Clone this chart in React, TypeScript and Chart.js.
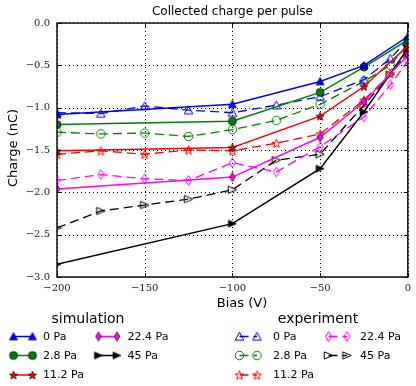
import { useEffect, useRef } from 'react';
import { Chart, registerables } from 'chart.js';
Chart.register(...registerables);

// ---------- data ----------
const simBias = [-200, -100, -50, -25, 0];
const expBias = [-200, -175, -150, -125, -100, -75, -50, -25, -10, 0];
const pressures = ['0 Pa', '2.8 Pa', '11.2 Pa', '22.4 Pa', '45 Pa'];

const sim0 = [-1.08, -0.96, -0.69, -0.5, -0.16];
const sim28 = [-1.2, -1.16, -0.82, -0.52, -0.2];
const sim112 = [-1.51, -1.47, -1.1, -0.75, -0.27];
const sim224 = [-1.96, -1.82, -1.35, -0.93, -0.38];
const sim45 = [-2.85, -2.37, -1.72, -1.05, -0.3];

const exp0 = [-1.06, -1.07, -0.98, -1.03, -1.06, -0.97, -0.87, -0.67, -0.42, -0.2];
const exp28 = [-1.29, -1.31, -1.3, -1.34, -1.26, -1.15, -0.96, -0.69, -0.5, -0.25];
const exp112 = [-1.55, -1.51, -1.55, -1.5, -1.51, -1.42, -1.31, -0.91, -0.6, -0.35];
const exp224 = [-1.86, -1.79, -1.84, -1.86, -1.65, -1.76, -1.46, -1.11, -0.73, -0.45];
const exp45 = [-2.42, -2.22, -2.15, -2.08, -1.97, -1.62, -1.55, -0.97, -0.61, -0.35];

const xTicks = [-200, -150, -100, -50, 0];
const yTicks = [-3, -2.5, -2, -1.5, -1, -0.5, 0];

const simSeries = [sim0, sim28, sim112, sim224, sim45];
const expSeries = [exp0, exp28, exp112, exp224, exp45];
const colors = ['#0000ff', '#007f00', '#ff0000', '#ff00ff', '#000000'];
const shapes = ['tri', 'circle', 'star', 'diamond', 'right'];

// ---------- markers ----------
function makeMarker(shape: string, size: number, fill: string | null, stroke: string, lw: number) {
  const w = Math.ceil(size + 6);
  const c = document.createElement('canvas');
  c.width = w;
  c.height = w;
  const ctx = c.getContext('2d')!;
  ctx.translate(w / 2, w / 2);
  const r = size / 2;
  ctx.beginPath();
  if (shape === 'tri') {
    ctx.moveTo(0, -r); ctx.lineTo(r, r * 0.85); ctx.lineTo(-r, r * 0.85); ctx.closePath();
  } else if (shape === 'circle') {
    ctx.arc(0, 0, r, 0, Math.PI * 2);
  } else if (shape === 'star') {
    const ri = r * 0.42;
    for (let k = 0; k < 10; k++) {
      const rr = k % 2 === 0 ? r * 1.1 : ri * 1.1;
      const a = -Math.PI / 2 + (k * Math.PI) / 5;
      const px = rr * Math.cos(a), py = rr * Math.sin(a) + 0.5;
      if (k === 0) ctx.moveTo(px, py); else ctx.lineTo(px, py);
    }
    ctx.closePath();
  } else if (shape === 'diamond') {
    ctx.moveTo(0, -r * 1.15); ctx.lineTo(r * 0.7, 0); ctx.lineTo(0, r * 1.15); ctx.lineTo(-r * 0.7, 0); ctx.closePath();
  } else if (shape === 'right') {
    ctx.moveTo(r, 0); ctx.lineTo(-r, -r * 0.85); ctx.lineTo(-r, r * 0.85); ctx.closePath();
  }
  if (fill) { ctx.fillStyle = fill; ctx.fill(); }
  ctx.lineWidth = lw;
  ctx.strokeStyle = stroke;
  ctx.stroke();
  return c;
}

const fmt = (v: number, d: number) => {
  const s = Math.abs(v) < 1e-9 ? (0).toFixed(d) : v.toFixed(d);
  return s.replace('-', '\u2212');
};

const DASH = [9, 5];

export default function App() {
  const ref = useRef<HTMLCanvasElement>(null);
  useEffect(() => {
    const simMarkers = shapes.map((s, i) => makeMarker(s, 8, colors[i], '#000', 0.7));
    const expMarkers = shapes.map((s, i) => makeMarker(s, 8.5, null, colors[i], 1));

    const datasets: any[] = [];
    simSeries.forEach((vals, i) => {
      datasets.push({
        label: 'simulation ' + pressures[i],
        data: simBias.map((x, j) => ({ x, y: vals[j] })),
        showLine: true,
        borderColor: colors[i],
        backgroundColor: colors[i],
        borderWidth: 1.5,
        pointStyle: simMarkers[i],
        pointRadius: 4,
        tension: 0,
      });
    });
    expSeries.forEach((vals, i) => {
      datasets.push({
        label: 'experiment ' + pressures[i],
        data: expBias.map((x, j) => ({ x, y: vals[j] })),
        showLine: true,
        borderColor: colors[i],
        backgroundColor: colors[i],
        borderWidth: 1.3,
        borderDash: DASH,
        pointStyle: expMarkers[i],
        pointRadius: 4,
        tension: 0,
      });
    });

    const decor = {
      id: 'decor',
      beforeDatasetsDraw(chart: any) {
        const { ctx, chartArea: a, scales } = chart;
        const x = scales.x, y = scales.y;
        ctx.save();
        ctx.strokeStyle = '#000';
        ctx.lineWidth = 1;
        ctx.setLineDash([1, 3]);
        for (const v of xTicks) {
          const px = Math.round(x.getPixelForValue(v)) + 0.5;
          ctx.beginPath(); ctx.moveTo(px, a.top); ctx.lineTo(px, a.bottom); ctx.stroke();
        }
        for (const v of yTicks) {
          const py = Math.round(y.getPixelForValue(v)) + 0.5;
          ctx.beginPath(); ctx.moveTo(a.left, py); ctx.lineTo(a.right, py); ctx.stroke();
        }
        ctx.restore();
      },
      afterDatasetsDraw(chart: any) {
        const { ctx, chartArea: a, scales } = chart;
        const x = scales.x, y = scales.y;
        ctx.save();
        ctx.strokeStyle = '#000';
        ctx.lineWidth = 1;
        for (const v of xTicks) {
          const px = Math.round(x.getPixelForValue(v)) + 0.5;
          ctx.beginPath(); ctx.moveTo(px, a.bottom); ctx.lineTo(px, a.bottom - 4);
          ctx.moveTo(px, a.top); ctx.lineTo(px, a.top + 4); ctx.stroke();
        }
        for (const v of yTicks) {
          const py = Math.round(y.getPixelForValue(v)) + 0.5;
          ctx.beginPath(); ctx.moveTo(a.left, py); ctx.lineTo(a.left + 4, py);
          ctx.moveTo(a.right, py); ctx.lineTo(a.right - 4, py); ctx.stroke();
        }
        ctx.lineWidth = 1.5;
        ctx.strokeStyle = '#111';
        ctx.strokeRect(a.left, a.top, a.right - a.left, a.bottom - a.top);
        ctx.restore();
      },
      afterDraw(chart: any) {
        const { ctx, chartArea: a } = chart;
        ctx.save();
        ctx.fillStyle = '#000';
        ctx.textBaseline = 'middle';
        ctx.textAlign = 'center';
        ctx.font = '12px "DejaVu Sans"';
        ctx.fillText('Collected charge per pulse', (a.left + a.right) / 2, 12);
        ctx.font = '13px "DejaVu Sans"';
        ctx.fillText('Bias (V)', 242, 304);
        ctx.save();
        ctx.translate(14, 148);
        ctx.rotate(-Math.PI / 2);
        ctx.fillText('Charge (nC)', 0, 0);
        ctx.restore();

        // legends
        ctx.font = '14px "DejaVu Sans"';
        ctx.fillText('simulation', 88, 319);
        ctx.fillText('experiment', 318, 319);

        const rowsY = [336.5, 355.5, 375];
        const simPos = [
          [13.5, 32.5, 43, 0], [13.5, 32.5, 43, 1], [13.5, 32.5, 43, 2],
          [98.5, 117, 127.5, 0], [98.5, 117, 127.5, 1],
        ];
        const expPos = [
          [239.5, 257, 273, 0], [239.5, 257, 273, 1], [239.5, 257, 273, 2],
          [328.5, 347, 360, 0], [328.5, 347, 360, 1],
        ];
        ctx.font = '11px "DejaVu Sans"';
        ctx.textAlign = 'left';
        const drawM = (m: HTMLCanvasElement, cx: number, cy: number) => {
          ctx.drawImage(m, cx - m.width / 2, cy - m.height / 2);
        };
        simPos.forEach(([m1, m2, tx, row], i) => {
          const cy = rowsY[row];
          ctx.strokeStyle = colors[i];
          ctx.lineWidth = 1.5;
          ctx.setLineDash([]);
          ctx.beginPath(); ctx.moveTo(m1, cy); ctx.lineTo(m2, cy); ctx.stroke();
          drawM(simMarkers[i], m1, cy);
          drawM(simMarkers[i], m2, cy);
          ctx.fillStyle = '#000';
          ctx.fillText(pressures[i], tx, cy + 0.5);
        });
        expPos.forEach(([m1, m2, tx, row], i) => {
          const cy = rowsY[row];
          ctx.strokeStyle = colors[i];
          ctx.lineWidth = 1.3;
          ctx.setLineDash(DASH);
          ctx.beginPath(); ctx.moveTo(m1, cy); ctx.lineTo(m2, cy); ctx.stroke();
          ctx.setLineDash([]);
          drawM(expMarkers[i], m1, cy);
          drawM(expMarkers[i], m2, cy);
          ctx.fillStyle = '#000';
          ctx.fillText(pressures[i], tx, cy + 0.5);
        });
        ctx.restore();
      },
    };

    const tickFont = { family: '"DejaVu Serif"', size: 10 };
    const chart = new Chart(ref.current!, {
      type: 'scatter',
      data: { datasets },
      plugins: [decor],
      options: {
        responsive: false,
        animation: false,
        events: [],
        layout: { padding: { left: 0, right: 8, top: 23, bottom: 79 } },
        plugins: {
          legend: { display: false },
          title: { display: false },
          tooltip: { enabled: false },
        },
        scales: {
          x: {
            type: 'linear',
            min: -200,
            max: 0,
            afterBuildTicks: (s: any) => { s.ticks = xTicks.map((v) => ({ value: v })); },
            afterFit: (s: any) => { s.height = 30; },
            grid: { display: false, drawTicks: false },
            border: { display: false },
            ticks: {
              font: tickFont,
              color: '#222',
              padding: 5,
              maxRotation: 0,
              autoSkip: false,
              callback: (v: any) => fmt(Number(v), 0),
            },
          },
          y: {
            type: 'linear',
            min: -3,
            max: 0,
            afterBuildTicks: (s: any) => { s.ticks = yTicks.map((v) => ({ value: v })); },
            afterFit: (s: any) => { s.width = 57; },
            grid: { display: false, drawTicks: false },
            border: { display: false },
            ticks: {
              font: tickFont,
              color: '#222',
              padding: 7,
              autoSkip: false,
              callback: (v: any) => fmt(Number(v), 1),
            },
          },
        },
      } as any,
    });
    return () => chart.destroy();
  }, []);

  return (
    <div style={{ position: 'absolute', left: 0, top: 0, width: 416, height: 386, background: '#fff' }}>
      <canvas ref={ref} width={416} height={386} style={{ display: 'block' }} />
    </div>
  );
}
